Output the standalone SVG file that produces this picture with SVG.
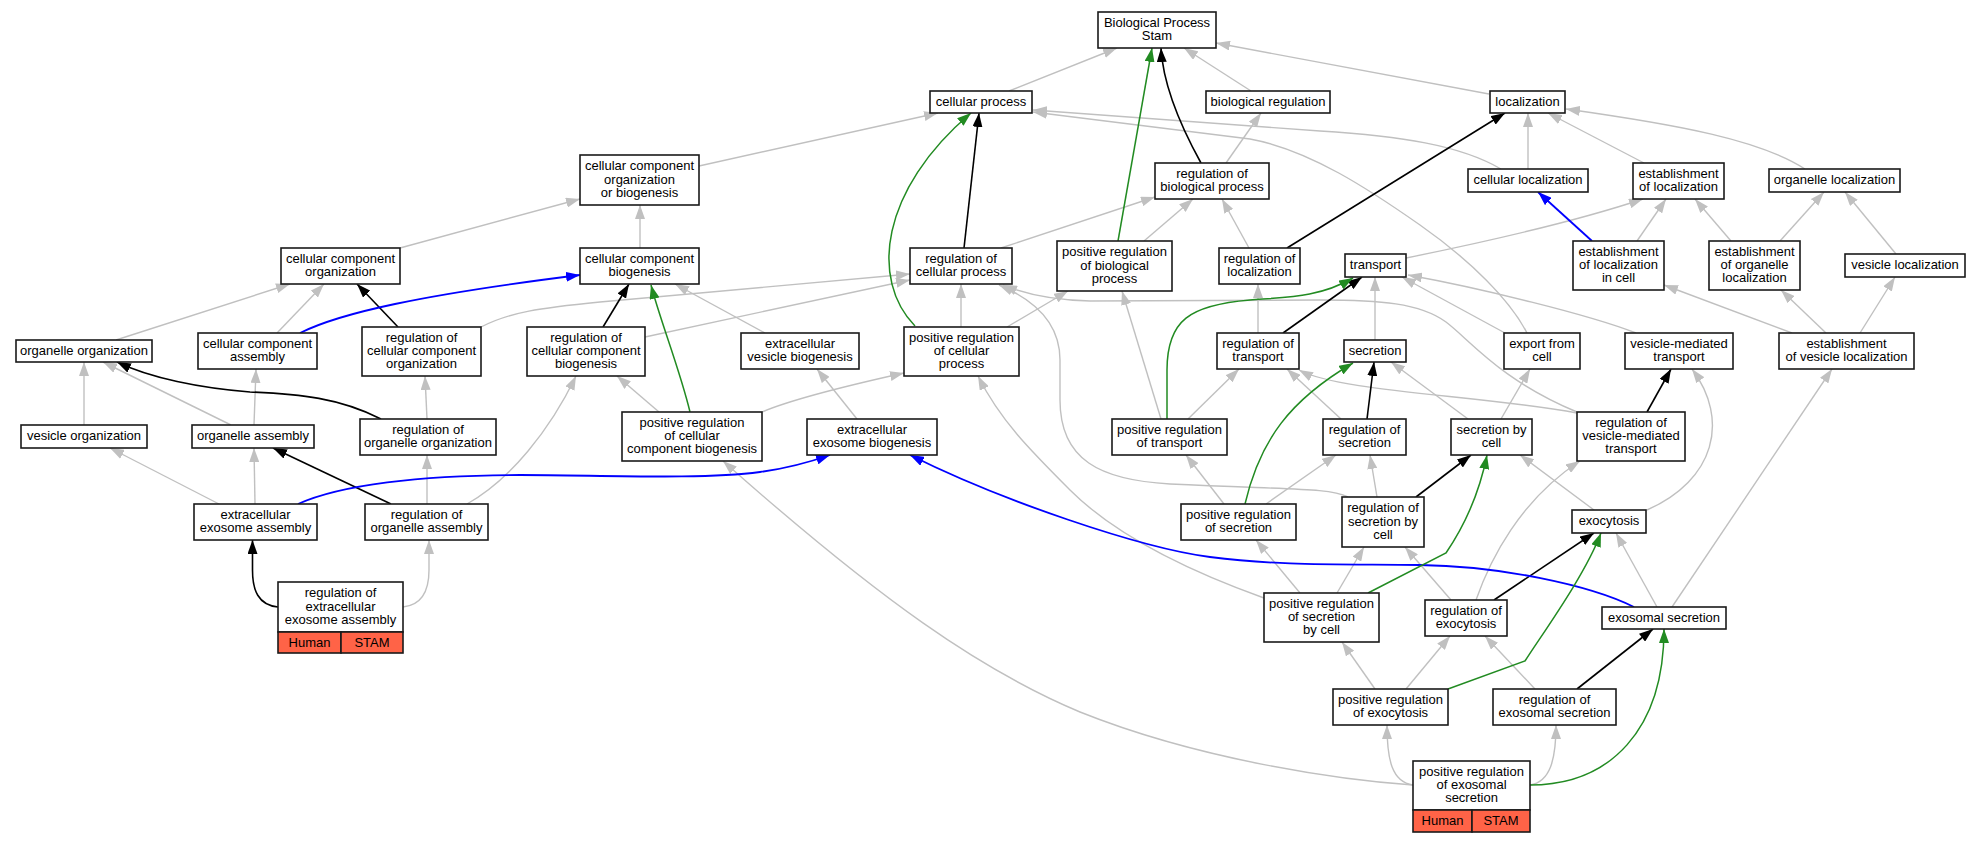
<svg xmlns="http://www.w3.org/2000/svg" width="1981" height="843" viewBox="0 0 1981 843">
<style>
.n rect{fill:#fff;stroke:#1a1a1a;stroke-width:1.6}
.n rect.h{fill:#ff6347}
.n text{font-family:"Liberation Sans",Arial,sans-serif;font-size:13px;text-anchor:middle;fill:#000}
#edges path{fill:none}
.g{stroke:#c0c0c0;stroke-width:1.4;marker-end:url(#ag)}
.k{stroke:#000;stroke-width:1.6;marker-end:url(#ak)}
.b{stroke:#0000ff;stroke-width:1.8;marker-end:url(#ab)}
.f{stroke:#228b22;stroke-width:1.5;marker-end:url(#af)}
</style>
<defs>
<marker id="ag" markerUnits="userSpaceOnUse" markerWidth="14" markerHeight="10" refX="14" refY="5" orient="auto"><path d="M0,0 L14,5 L0,10 z" fill="#c0c0c0"/></marker>
<marker id="ak" markerUnits="userSpaceOnUse" markerWidth="14" markerHeight="10" refX="14" refY="5" orient="auto"><path d="M0,0 L14,5 L0,10 z" fill="#000"/></marker>
<marker id="ab" markerUnits="userSpaceOnUse" markerWidth="14" markerHeight="10" refX="14" refY="5" orient="auto"><path d="M0,0 L14,5 L0,10 z" fill="#0000ff"/></marker>
<marker id="af" markerUnits="userSpaceOnUse" markerWidth="14" markerHeight="10" refX="14" refY="5" orient="auto"><path d="M0,0 L14,5 L0,10 z" fill="#228b22"/></marker>
</defs>
<rect x="0" y="0" width="1981" height="843" fill="#fff"/>
<g id="edges">
<path class="g" d="M1009,91 L1117,48"/>
<path class="g" d="M1251,91 L1184,48"/>
<path class="g" d="M1489,94 L1216,43"/>
<path class="g" d="M699,166 L938,113"/>
<path class="g" d="M1501,169 C1460,145 1400,136 1320,131 L1033,110"/>
<path class="g" d="M1527,333 C1510,300 1470,260 1420,225 C1370,190 1310,150 1250,139 L1033,112"/>
<path class="g" d="M1226,163 L1261,113"/>
<path class="g" d="M1528,169 L1528,113"/>
<path class="g" d="M1644,163 L1548,113"/>
<path class="g" d="M1805,169 C1760,140 1680,125 1566,109"/>
<path class="g" d="M400,248 L580,199"/>
<path class="g" d="M640,248 L640,205"/>
<path class="g" d="M1001,248 L1155,197"/>
<path class="g" d="M1144,241 L1193,199"/>
<path class="g" d="M1249,248 L1222,199"/>
<path class="g" d="M1406,258 C1480,243 1580,220 1643,199"/>
<path class="g" d="M1637,241 L1666,199"/>
<path class="g" d="M1731,241 L1695,199"/>
<path class="g" d="M1780,241 L1824,192"/>
<path class="g" d="M1896,254 L1845,192"/>
<path class="g" d="M116,340 L290,284"/>
<path class="g" d="M277,333 L324,284"/>
<path class="g" d="M765,333 L675,284"/>
<path class="g" d="M481,327 C510,312 540,308 600,302 L910,274"/>
<path class="g" d="M645,337 L910,280"/>
<path class="g" d="M961,327 L961,284"/>
<path class="g" d="M1007,327 L1068,291"/>
<path class="g" d="M1577,412 C1500,380 1470,340 1446,322 C1420,303 1380,300 1320,300 L1090,301 C1050,300 1020,292 1003,285"/>
<path class="g" d="M1348,497 C1330,488 1300,490 1170,484 C1100,480 1060,460 1060,400 L1060,360 C1060,320 1030,298 999,285"/>
<path class="g" d="M1258,333 L1258,284"/>
<path class="g" d="M1375,340 L1375,277"/>
<path class="g" d="M1505,333 L1402,277"/>
<path class="g" d="M1636,333 C1590,315 1480,288 1408,275"/>
<path class="g" d="M1161,419 L1122,291"/>
<path class="g" d="M1188,419 L1239,369"/>
<path class="g" d="M1468,419 L1391,362"/>
<path class="g" d="M1501,419 L1530,369"/>
<path class="g" d="M1594,510 L1520,455"/>
<path class="g" d="M1647,510 C1715,480 1730,420 1692,369"/>
<path class="g" d="M1476,600 C1490,560 1520,500 1580,461"/>
<path class="g" d="M1792,333 L1664,285"/>
<path class="g" d="M1826,333 L1781,290"/>
<path class="g" d="M1860,333 L1895,277"/>
<path class="g" d="M1672,607 L1832,369"/>
<path class="g" d="M1657,607 L1616,533"/>
<path class="g" d="M1406,689 L1450,636"/>
<path class="g" d="M1375,689 L1342,642"/>
<path class="g" d="M1535,689 L1485,636"/>
<path class="g" d="M1413,785 C1392,782 1387,760 1387,725"/>
<path class="g" d="M1530,785 C1550,782 1556,760 1556,725"/>
<path class="g" d="M1413,785 C1340,780 1200,760 1080,712 C980,670 880,600 723,461"/>
<path class="g" d="M1264,598 C1200,575 1120,540 1070,490 C1030,450 1000,420 978,376"/>
<path class="g" d="M1300,593 L1256,540"/>
<path class="g" d="M1337,593 L1364,547"/>
<path class="g" d="M1451,600 L1405,547"/>
<path class="g" d="M1224,504 L1186,455"/>
<path class="g" d="M1266,504 L1336,455"/>
<path class="g" d="M1377,497 L1370,455"/>
<path class="g" d="M1341,419 L1287,369"/>
<path class="g" d="M1577,413 C1480,395 1340,392 1299,370"/>
<path class="g" d="M762,412 C790,400 850,385 904,373"/>
<path class="g" d="M659,412 L617,376"/>
<path class="g" d="M857,419 L817,369"/>
<path class="g" d="M231,425 L103,362"/>
<path class="g" d="M254,425 L256,369"/>
<path class="g" d="M427,419 L425,376"/>
<path class="g" d="M84,425 L84,362"/>
<path class="g" d="M219,504 L110,448"/>
<path class="g" d="M255,504 L254,448"/>
<path class="g" d="M427,504 L427,455"/>
<path class="g" d="M467,504 C510,480 550,430 576,376"/>
<path class="g" d="M403,607 C422,605 429,590 429,570 L429,540"/>
<path class="k" d="M1201,163 C1180,125 1163,85 1161,48"/>
<path class="k" d="M964,248 L979,113"/>
<path class="k" d="M1287,248 L1505,113"/>
<path class="k" d="M398,327 L357,284"/>
<path class="k" d="M603,327 L629,284"/>
<path class="k" d="M1283,333 L1362,277"/>
<path class="k" d="M1367,419 L1374,362"/>
<path class="k" d="M1416,497 L1471,455"/>
<path class="k" d="M1647,412 L1671,369"/>
<path class="k" d="M1494,600 L1594,533"/>
<path class="k" d="M1577,689 L1653,629"/>
<path class="k" d="M391,504 L273,448"/>
<path class="k" d="M381,419 C340,398 300,394 250,392 C200,388 150,378 117,362"/>
<path class="k" d="M278,607 C258,605 252.5,590 252.5,570 L252.5,540"/>
<path class="b" d="M1592,241 L1538,192"/>
<path class="b" d="M300,333 C340,313 420,295 580,275"/>
<path class="b" d="M1634,607 C1590,585 1500,566 1420,565 C1340,564 1280,566 1210,557 C1140,548 1000,500 910,455"/>
<path class="b" d="M298,504 C340,485 420,475 520,475 C600,475 700,480 760,472 C790,468 810,462 830,455"/>
<path class="f" d="M1118,241 L1152,48"/>
<path class="f" d="M915,326 C870,280 880,190 971,113"/>
<path class="f" d="M690,412 C680,370 660,320 651,285"/>
<path class="f" d="M1167,419 L1167,370 C1167,320 1190,305 1250,300 C1290,297 1320,297 1353,278"/>
<path class="f" d="M1245,504 C1260,440 1290,400 1353,363"/>
<path class="f" d="M1368,593 L1446,553 C1465,525 1480,490 1487,455"/>
<path class="f" d="M1448,689 L1525,661 C1545,630 1585,575 1601,533"/>
<path class="f" d="M1530,785 C1610,785 1664,730 1664,629"/>
</g>
<g id="n_bps" class="n"><rect x="1098" y="12" width="118" height="36"/><text x="1157" y="26.9">Biological Process</text><text x="1157" y="40.2">Stam</text></g>
<g id="n_cp" class="n"><rect x="930" y="91" width="102" height="22"/><text x="981" y="105.5">cellular process</text></g>
<g id="n_breg" class="n"><rect x="1206" y="91" width="124" height="22"/><text x="1268" y="105.5">biological regulation</text></g>
<g id="n_loc" class="n"><rect x="1490" y="91" width="75" height="22"/><text x="1527.5" y="105.5">localization</text></g>
<g id="n_ccob" class="n"><rect x="580" y="155" width="119" height="50"/><text x="639.5" y="170.2">cellular component</text><text x="639.5" y="183.5">organization</text><text x="639.5" y="196.8">or biogenesis</text></g>
<g id="n_rbp" class="n"><rect x="1155" y="163" width="114" height="36"/><text x="1212" y="177.9">regulation of</text><text x="1212" y="191.2">biological process</text></g>
<g id="n_cloc" class="n"><rect x="1468" y="169" width="120" height="23"/><text x="1528" y="184">cellular localization</text></g>
<g id="n_eloc" class="n"><rect x="1633" y="163" width="91" height="36"/><text x="1678.5" y="177.9">establishment</text><text x="1678.5" y="191.2">of localization</text></g>
<g id="n_oloc" class="n"><rect x="1769" y="169" width="131" height="23"/><text x="1834.5" y="184">organelle localization</text></g>
<g id="n_cco" class="n"><rect x="281" y="248" width="119" height="36"/><text x="340.5" y="262.9">cellular component</text><text x="340.5" y="276.2">organization</text></g>
<g id="n_ccb" class="n"><rect x="580" y="248" width="119" height="36"/><text x="639.5" y="262.9">cellular component</text><text x="639.5" y="276.2">biogenesis</text></g>
<g id="n_rcp" class="n"><rect x="910" y="248" width="102" height="36"/><text x="961" y="262.9">regulation of</text><text x="961" y="276.2">cellular process</text></g>
<g id="n_prbp" class="n"><rect x="1057" y="241" width="115" height="50"/><text x="1114.5" y="256.2">positive regulation</text><text x="1114.5" y="269.5">of biological</text><text x="1114.5" y="282.8">process</text></g>
<g id="n_rloc" class="n"><rect x="1219" y="248" width="81" height="36"/><text x="1259.5" y="262.9">regulation of</text><text x="1259.5" y="276.2">localization</text></g>
<g id="n_tr" class="n"><rect x="1345" y="254" width="61" height="23"/><text x="1375.5" y="269">transport</text></g>
<g id="n_elic" class="n"><rect x="1573" y="241" width="91" height="49"/><text x="1618.5" y="255.7">establishment</text><text x="1618.5" y="269">of localization</text><text x="1618.5" y="282.3">in cell</text></g>
<g id="n_eol" class="n"><rect x="1709" y="241" width="91" height="49"/><text x="1754.5" y="255.7">establishment</text><text x="1754.5" y="269">of organelle</text><text x="1754.5" y="282.3">localization</text></g>
<g id="n_vloc" class="n"><rect x="1845" y="254" width="120" height="23"/><text x="1905" y="269">vesicle localization</text></g>
<g id="n_oorg" class="n"><rect x="16" y="340" width="136" height="22"/><text x="84" y="354.5">organelle organization</text></g>
<g id="n_cca" class="n"><rect x="198" y="333" width="119" height="36"/><text x="257.5" y="347.9">cellular component</text><text x="257.5" y="361.2">assembly</text></g>
<g id="n_rcco" class="n"><rect x="362" y="327" width="119" height="49"/><text x="421.5" y="341.7">regulation of</text><text x="421.5" y="355">cellular component</text><text x="421.5" y="368.3">organization</text></g>
<g id="n_rccb" class="n"><rect x="527" y="327" width="118" height="49"/><text x="586" y="341.7">regulation of</text><text x="586" y="355">cellular component</text><text x="586" y="368.3">biogenesis</text></g>
<g id="n_evb" class="n"><rect x="741" y="333" width="118" height="36"/><text x="800" y="347.9">extracellular</text><text x="800" y="361.2">vesicle biogenesis</text></g>
<g id="n_prcp" class="n"><rect x="904" y="327" width="115" height="49"/><text x="961.5" y="341.7">positive regulation</text><text x="961.5" y="355">of cellular</text><text x="961.5" y="368.3">process</text></g>
<g id="n_rtr" class="n"><rect x="1217" y="333" width="82" height="36"/><text x="1258" y="347.9">regulation of</text><text x="1258" y="361.2">transport</text></g>
<g id="n_sec" class="n"><rect x="1344" y="340" width="62" height="22"/><text x="1375" y="354.5">secretion</text></g>
<g id="n_efc" class="n"><rect x="1504" y="333" width="76" height="36"/><text x="1542" y="347.9">export from</text><text x="1542" y="361.2">cell</text></g>
<g id="n_vmt" class="n"><rect x="1625" y="333" width="108" height="36"/><text x="1679" y="347.9">vesicle-mediated</text><text x="1679" y="361.2">transport</text></g>
<g id="n_evl" class="n"><rect x="1779" y="333" width="135" height="36"/><text x="1846.5" y="347.9">establishment</text><text x="1846.5" y="361.2">of vesicle localization</text></g>
<g id="n_vorg" class="n"><rect x="21" y="425" width="126" height="23"/><text x="84" y="440">vesicle organization</text></g>
<g id="n_oa" class="n"><rect x="192" y="425" width="122" height="23"/><text x="253" y="440">organelle assembly</text></g>
<g id="n_roo" class="n"><rect x="360" y="419" width="136" height="36"/><text x="428" y="433.9">regulation of</text><text x="428" y="447.2">organelle organization</text></g>
<g id="n_prccb" class="n"><rect x="622" y="412" width="140" height="49"/><text x="692" y="426.7">positive regulation</text><text x="692" y="440">of cellular</text><text x="692" y="453.3">component biogenesis</text></g>
<g id="n_eeb" class="n"><rect x="807" y="419" width="130" height="36"/><text x="872" y="433.9">extracellular</text><text x="872" y="447.2">exosome biogenesis</text></g>
<g id="n_prtr" class="n"><rect x="1112" y="419" width="115" height="36"/><text x="1169.5" y="433.9">positive regulation</text><text x="1169.5" y="447.2">of transport</text></g>
<g id="n_rsec" class="n"><rect x="1323" y="419" width="83" height="36"/><text x="1364.5" y="433.9">regulation of</text><text x="1364.5" y="447.2">secretion</text></g>
<g id="n_sbc" class="n"><rect x="1451" y="419" width="81" height="36"/><text x="1491.5" y="433.9">secretion by</text><text x="1491.5" y="447.2">cell</text></g>
<g id="n_rvmt" class="n"><rect x="1577" y="412" width="108" height="49"/><text x="1631" y="426.7">regulation of</text><text x="1631" y="440">vesicle-mediated</text><text x="1631" y="453.3">transport</text></g>
<g id="n_eea" class="n"><rect x="194" y="504" width="123" height="36"/><text x="255.5" y="518.9">extracellular</text><text x="255.5" y="532.2">exosome assembly</text></g>
<g id="n_roa" class="n"><rect x="365" y="504" width="123" height="36"/><text x="426.5" y="518.9">regulation of</text><text x="426.5" y="532.2">organelle assembly</text></g>
<g id="n_prsec" class="n"><rect x="1181" y="504" width="115" height="36"/><text x="1238.5" y="518.9">positive regulation</text><text x="1238.5" y="532.2">of secretion</text></g>
<g id="n_rsbc" class="n"><rect x="1342" y="497" width="82" height="50"/><text x="1383" y="512.2">regulation of</text><text x="1383" y="525.5">secretion by</text><text x="1383" y="538.8">cell</text></g>
<g id="n_exo" class="n"><rect x="1572" y="510" width="74" height="23"/><text x="1609" y="525">exocytosis</text></g>
<g id="n_reea" class="n"><rect x="278" y="582" width="125" height="50"/><rect class="h" x="278" y="632" width="63" height="21"/><rect class="h" x="341" y="632" width="62" height="21"/><text x="340.5" y="597.2">regulation of</text><text x="340.5" y="610.5">extracellular</text><text x="340.5" y="623.8">exosome assembly</text><text x="309.5" y="646.5">Human</text><text x="372" y="646.5">STAM</text></g>
<g id="n_prsbc" class="n"><rect x="1264" y="593" width="115" height="49"/><text x="1321.5" y="607.7">positive regulation</text><text x="1321.5" y="621">of secretion</text><text x="1321.5" y="634.3">by cell</text></g>
<g id="n_rexo" class="n"><rect x="1425" y="600" width="82" height="36"/><text x="1466" y="614.9">regulation of</text><text x="1466" y="628.2">exocytosis</text></g>
<g id="n_exs" class="n"><rect x="1602" y="607" width="124" height="22"/><text x="1664" y="621.5">exosomal secretion</text></g>
<g id="n_prexo" class="n"><rect x="1333" y="689" width="115" height="36"/><text x="1390.5" y="703.9">positive regulation</text><text x="1390.5" y="717.2">of exocytosis</text></g>
<g id="n_rexs" class="n"><rect x="1493" y="689" width="123" height="36"/><text x="1554.5" y="703.9">regulation of</text><text x="1554.5" y="717.2">exosomal secretion</text></g>
<g id="n_prexs" class="n"><rect x="1413" y="761" width="117" height="49"/><rect class="h" x="1413" y="810" width="59" height="22"/><rect class="h" x="1472" y="810" width="58" height="22"/><text x="1471.5" y="775.7">positive regulation</text><text x="1471.5" y="789">of exosomal</text><text x="1471.5" y="802.3">secretion</text><text x="1442.5" y="825">Human</text><text x="1501" y="825">STAM</text></g>
</svg>
